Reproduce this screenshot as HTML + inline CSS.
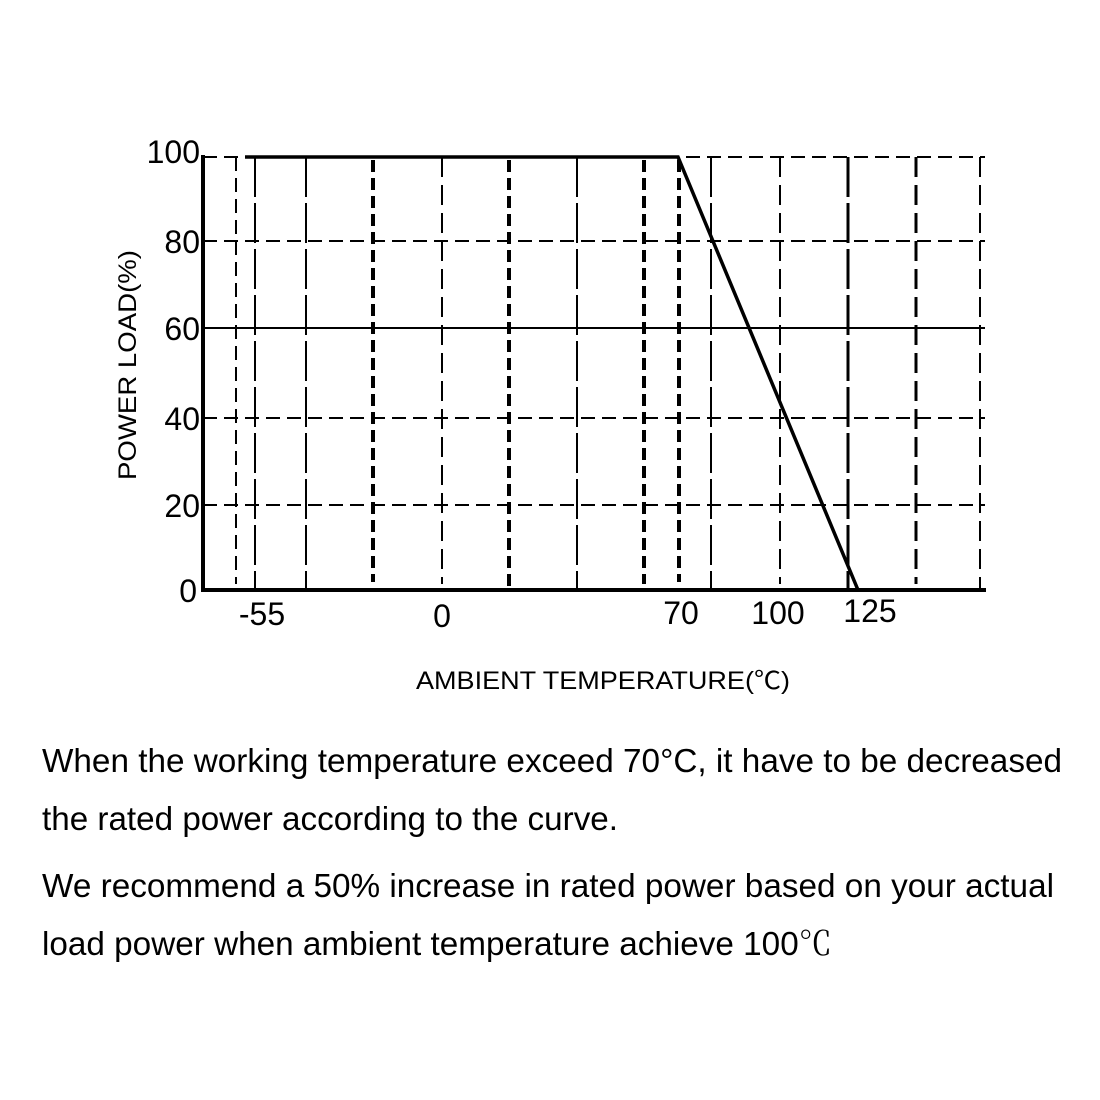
<!DOCTYPE html>
<html><head><style>
body{margin:0;background:#fff;}
svg{display:block;}
text{font-family:"Liberation Sans",Arial,sans-serif;fill:#000;}
</style></head><body>
<svg width="1100" height="1100" viewBox="0 0 1100 1100" xmlns="http://www.w3.org/2000/svg">
<g stroke="#000" fill="none">
<line x1="203" y1="157" x2="985" y2="157" stroke-width="2" stroke-dasharray="14,7"/>
<line x1="203" y1="241" x2="985" y2="241" stroke-width="2" stroke-dasharray="14,7"/>
<line x1="203" y1="328" x2="985" y2="328" stroke-width="2"/>
<line x1="203" y1="418" x2="985" y2="418" stroke-width="2" stroke-dasharray="14,7"/>
<line x1="203" y1="505" x2="985" y2="505" stroke-width="2" stroke-dasharray="14,7"/>
<line x1="236" y1="157" x2="236" y2="584" stroke-width="2" stroke-dasharray="14,7"/>
<line x1="255" y1="157" x2="255" y2="590" stroke-width="2" stroke-dasharray="40,6"/>
<line x1="306" y1="157" x2="306" y2="590" stroke-width="2" stroke-dasharray="40,6"/>
<line x1="373" y1="160" x2="373" y2="582" stroke-width="4" stroke-dasharray="12,6"/>
<line x1="442" y1="157" x2="442" y2="584" stroke-width="2" stroke-dasharray="20,8"/>
<line x1="509" y1="160" x2="509" y2="590" stroke-width="4" stroke-dasharray="12,6"/>
<line x1="577" y1="157" x2="577" y2="590" stroke-width="2" stroke-dasharray="40,6"/>
<line x1="644" y1="160" x2="644" y2="584" stroke-width="4" stroke-dasharray="12,6"/>
<line x1="679" y1="160" x2="679" y2="582" stroke-width="4" stroke-dasharray="12,6"/>
<line x1="711" y1="157" x2="711" y2="590" stroke-width="2" stroke-dasharray="40,6"/>
<line x1="780" y1="157" x2="780" y2="584" stroke-width="2" stroke-dasharray="20,8"/>
<line x1="848" y1="157" x2="848" y2="590" stroke-width="3" stroke-dasharray="40,6"/>
<line x1="916" y1="157" x2="916" y2="584" stroke-width="3" stroke-dasharray="20,8"/>
<line x1="980" y1="157" x2="980" y2="590" stroke-width="2" stroke-dasharray="20,8"/>
<line x1="203" y1="155" x2="203" y2="592" stroke-width="4"/>
<line x1="201" y1="590" x2="986" y2="590" stroke-width="4"/>
<polyline points="245,157 678,157 858,590" stroke-width="3.5"/>
</g>
<g font-size="32" text-anchor="end">
<text x="200" y="163">100</text>
<text x="200" y="253">80</text>
<text x="200" y="340">60</text>
<text x="200" y="430">40</text>
<text x="200" y="517">20</text>
<text x="197" y="602">0</text>
</g>
<g font-size="32" text-anchor="middle">
<text x="262" y="625">-55</text>
<text x="442" y="627">0</text>
<text x="681" y="624">70</text>
<text x="778" y="624">100</text>
<text x="870" y="622">125</text>
</g>
<text x="416" y="689" font-size="25" textLength="374" lengthAdjust="spacingAndGlyphs" style='font-family:"Liberation Sans","Noto Sans CJK SC",sans-serif'>AMBIENT  TEMPERATURE(℃)</text>
<text transform="translate(136,480) rotate(-90)" font-size="25" textLength="230" lengthAdjust="spacingAndGlyphs">POWER  LOAD(%)</text>
<g font-size="33">
<text x="42" y="772" textLength="1020" lengthAdjust="spacingAndGlyphs">When the working temperature exceed 70°C, it have to be decreased</text>
<text x="42" y="830" textLength="576" lengthAdjust="spacingAndGlyphs">the rated power according to the curve.</text>
<text x="42" y="897" textLength="1012" lengthAdjust="spacingAndGlyphs">We recommend a 50% increase in rated power based on your actual</text>
<text x="42" y="955" textLength="790" lengthAdjust="spacingAndGlyphs" style='font-family:"Liberation Sans","Noto Serif CJK SC",sans-serif'>load power when ambient temperature achieve 100℃</text>
</g>
</svg>
</body></html>
